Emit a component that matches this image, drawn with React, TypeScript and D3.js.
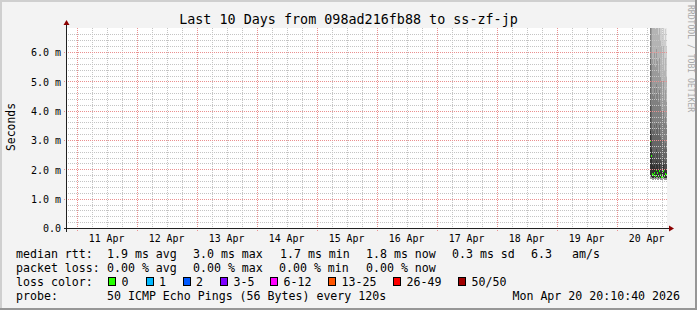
import React from "react";
import * as d3 from "d3";

const W = 697;
const H = 310;
const title = "Last 10 Days from 098ad216fb88 to ss-zf-jp";
const yAxisTitle = "Seconds";
const watermark = "RRDTOOL / TOBI OETIKER";

const endTime = Date.UTC(2026, 3, 20, 20, 10, 40);
const spanSeconds = 10 * 86400;
const yMax = 6.82;

const yTickValues = [0, 1, 2, 3, 4, 5, 6];
const yTickLabels = ["0.0", "1.0 m", "2.0 m", "3.0 m", "4.0 m", "5.0 m", "6.0 m"];
const dayLabels = ["11 Apr", "12 Apr", "13 Apr", "14 Apr", "15 Apr", "16 Apr", "17 Apr", "18 Apr", "19 Apr", "20 Apr"];

// samples (one per 1440 s step) on 20 Apr
const sampleStart = Date.UTC(2026, 3, 20, 13, 18, 0);
const sampleStepSec = 1440;
const medianMs = [2.98, 2.47, 1.85, 1.82, 1.88, 1.79, 1.97, 1.87, 1.77, 1.93, 1.81, 1.75, 1.7, 1.96, 1.77, 1.85, 1.8];
const minMs = [1.66, 1.66, 1.64, 1.65, 1.66, 1.64, 1.67, 1.65, 1.64, 1.66, 1.65, 1.64, 1.63, 1.66, 1.64, 1.65, 1.64];
const lowerQuartileMs = [1.76, 1.74, 1.72, 1.72, 1.74, 1.71, 1.75, 1.73, 1.71, 1.74, 1.72, 1.7, 1.68, 1.74, 1.71, 1.72, 1.71];
// upper bounds of smoke bands, outermost first
const smokeBand0 = [15, 15, 15, 15, 15, 15, 15, 15, 15, 15, 15, 15, 15, 15, 15, 15, 15];
const smokeBand1 = [15, 15, 12, 11, 12, 10, 12, 11, 9, 11, 9, 8, 6.6, 7.5, 6.4, 6.8, 6.2];
const smokeBand2 = [12, 9.5, 7.2, 6.9, 7.4, 6.8, 7.6, 7.0, 6.6, 7.1, 6.4, 6.2, 5.6, 6.2, 5.4, 5.8, 5.2];
const smokeBand3 = [9.5, 7.2, 5.8, 5.6, 6.0, 5.5, 6.1, 5.7, 5.3, 5.8, 5.2, 5.0, 4.6, 5.0, 4.4, 4.7, 4.3];
const smokeBand4 = [7.5, 5.6, 4.6, 4.5, 4.8, 4.4, 4.9, 4.6, 4.3, 4.7, 4.2, 4.0, 3.7, 4.0, 3.6, 3.8, 3.5];
const smokeBand5 = [5.8, 4.2, 3.4, 3.3, 3.5, 3.2, 3.6, 3.4, 3.2, 3.5, 3.1, 3.0, 2.8, 3.0, 2.7, 2.9, 2.7];
const smokeBand6 = [4.2, 3.2, 2.6, 2.5, 2.6, 2.4, 2.7, 2.6, 2.4, 2.6, 2.4, 2.3, 2.2, 2.4, 2.2, 2.3, 2.2];
const smokeBand7 = [3.3, 2.7, 2.15, 2.1, 2.2, 2.05, 2.3, 2.15, 2.0, 2.2, 2.0, 1.95, 1.88, 2.15, 1.95, 2.02, 1.97];
const smokeBands = [smokeBand0, smokeBand1, smokeBand2, smokeBand3, smokeBand4, smokeBand5, smokeBand6, smokeBand7];

const lossLabels = ["0", "1", "2", "3-5", "6-12", "13-25", "26-49", "50/50"];
const lossColors = ["#26ff00", "#00b8ff", "#0059ff", "#7e00ff", "#ff00ff", "#ff5500", "#ff0000", "#a10000"];

const rttRow = ["1.9 ms avg", "3.0 ms max", "1.7 ms min", "1.8 ms now", "0.3 ms sd", "6.3", "am/s"];
const lossRow = ["0.00 % avg", "0.00 % max", "0.00 % min", "0.00 % now"];
const probeText = "50 ICMP Echo Pings (56 Bytes) every 120s";
const dateText = "Mon Apr 20 20:10:40 2026";

// layout
const L = 67, R = 667, T = 28, B = 228;
const mono = "'DejaVu Sans Mono', monospace";
const rttX = [107, 193, 280, 366, 452, 531, 572];
const lossX = [107, 193, 279, 366];
const swatchX = [108, 145.5, 182.5, 220, 270, 328, 393, 458];
const minorGridColor = "#c4c4c4";
const majorGridColor = "#ea9090";

export default function App() {
  const x = d3.scaleUtc().domain([new Date(endTime - spanSeconds * 1000), new Date(endTime)]).range([L, R]);
  const y = d3.scaleLinear().domain([0, yMax]).range([B, T]);
  const [d0, d1] = x.domain();

  const bandColor = (i: number) => {
    const v = Math.round(232 - (182 / (smokeBands.length - 1)) * i);
    return `rgb(${v},${v},${v})`;
  };

  const sampleT = (i: number) => new Date(sampleStart + i * sampleStepSec * 1000);

  const minorH = d3.range(0, 34).map((k) => k * 0.2).filter((v) => v > 0 && v < yMax && Math.abs(v - Math.round(v)) > 1e-6);
  const majorH = yTickValues.filter((v) => v > 0);
  const minorV = d3.utcHour.every(6)!.range(d0, d1).filter((d) => d.getUTCHours() !== 0);
  const majorV = d3.utcDay.range(d0, d1);
  const parseDay = d3.utcParse("%d %b %Y");
  const px = (v: number) => Math.round(v);

  return (
    <svg width={W} height={H} style={{ display: "block", position: "absolute", left: 0, top: 0 }} fontFamily={mono}>
      <defs>
        <clipPath id="plotclip">
          <rect x={L} y={T} width={R - L} height={B - T} />
        </clipPath>
        <pattern id="hMinor" x={0} y={0} width={2} height={1} patternUnits="userSpaceOnUse">
          <rect x={0} y={0} width={1} height={1} fill={minorGridColor} />
        </pattern>
        <pattern id="vMinor" x={0} y={0} width={1} height={2} patternUnits="userSpaceOnUse">
          <rect x={0} y={0} width={1} height={1} fill={minorGridColor} />
        </pattern>
        <pattern id="hMajor" x={0} y={0} width={2} height={1} patternUnits="userSpaceOnUse">
          <rect x={0} y={0} width={1} height={1} fill={majorGridColor} />
        </pattern>
        <pattern id="vMajor" x={0} y={0} width={1} height={2} patternUnits="userSpaceOnUse">
          <rect x={0} y={0} width={1} height={1} fill={majorGridColor} />
        </pattern>
      </defs>
      <rect x={0} y={0} width={W} height={H} fill="#f3f3f3" />
      {/* frame shading */}
      <path d={`M0,0H${W}V2H2V${H}H0Z`} fill="#cfcfcf" />
      <path d={`M${W},0V${H}H0V${H - 2}H${W - 2}V0Z`} fill="#969696" />
      <rect x={L} y={T} width={R - L} height={B - T} fill="#ffffff" />

      {/* smoke */}
      <g clipPath="url(#plotclip)" shapeRendering="crispEdges">
        {smokeBands.map((band, bi) =>
          band.map((hi, i) => {
            const lo = bi < 4 ? minMs[i] : lowerQuartileMs[i];
            const x0 = x(sampleT(i));
            const x1 = x(sampleT(i + 1));
            return (
              <rect key={`s${bi}-${i}`} x={x0} y={y(hi)} width={x1 - x0} height={y(lo) - y(hi)} fill={bandColor(bi)} />
            );
          })
        )}
        {medianMs.map((m, i) => {
          const x0 = x(sampleT(i));
          const x1 = x(sampleT(i + 1));
          return <rect key={`m${i}`} x={x0} y={y(m) - 1} width={x1 - x0} height={2} fill={lossColors[0]} />;
        })}
      </g>

      {/* grid */}
      <g shapeRendering="crispEdges">
        {minorH.map((v) => (
          <rect key={`mh${v}`} x={L} y={px(y(v))} width={R - L} height={1} fill="url(#hMinor)" />
        ))}
        {minorV.map((d) => (
          <rect key={`mv${+d}`} x={px(x(d))} y={T} width={1} height={B - T} fill="url(#vMinor)" />
        ))}
        {majorH.map((v) => (
          <rect key={`Mh${v}`} x={L - 4} y={px(y(v))} width={R - L + 4} height={1} fill="url(#hMajor)" />
        ))}
        {majorV.map((d) => (
          <rect key={`Mv${+d}`} x={px(x(d))} y={T} width={1} height={B - T + 4} fill="url(#vMajor)" />
        ))}
      </g>

      {/* axes */}
      <g shapeRendering="crispEdges">
        <line x1={L - 3} x2={R + 3} y1={B + 0.5} y2={B + 0.5} stroke="#202020" />
        <line x1={L - 0.5} x2={L - 0.5} y1={B + 4} y2={T - 3} stroke="#202020" />
      </g>
      <path d={`M${R + 7},${B + 0.5}L${R + 2},${B - 2.5}L${R + 2},${B + 3.5}Z`} fill="#8b0000" />
      <path d={`M${L - 0.5},${T - 8}L${L - 3.5},${T - 3}L${L + 2.5},${T - 3}Z`} fill="#8b0000" />

      {/* title */}
      <text x={W / 2} y={24} textAnchor="middle" fontSize={13.4} fill="#000">{title}</text>
      <text transform={`translate(688,5) rotate(90)`} fontSize={8.1} fill="#a8a8a8">{watermark}</text>
      <text transform={`translate(15,127) rotate(-90)`} textAnchor="middle" fontSize={11.4} fill="#000">{yAxisTitle}</text>

      {/* y tick labels */}
      {yTickValues.map((v, i) => (
        <text key={`yl${v}`} x={61} y={y(v) + 4.3} textAnchor="end" fontSize={10} fill="#000">{yTickLabels[i]}</text>
      ))}
      {/* x tick labels */}
      {dayLabels.map((lab) => {
        const d = parseDay(lab + " 2026")!;
        const noon = d3.utcHour.offset(d, 12);
        return (
          <text key={lab} x={x(noon)} y={241.5} textAnchor="middle" fontSize={9.9} fill="#000">{lab}</text>
        );
      })}

      {/* legend */}
      <g fontSize={11.6} fill="#000">
        <text x={16} y={258}>median rtt:</text>
        {rttRow.map((t, i) => (
          <text key={`r${i}`} x={rttX[i]} y={258}>{t}</text>
        ))}
        <text x={16} y={272}>packet loss:</text>
        {lossRow.map((t, i) => (
          <text key={`l${i}`} x={lossX[i]} y={272}>{t}</text>
        ))}
        <text x={16} y={286}>loss color:</text>
        {lossLabels.map((lab, i) => (
          <g key={`lc${i}`}>
            <rect x={swatchX[i] + 0.5} y={277.5} width={7} height={8} fill={lossColors[i]} stroke="#000" strokeWidth={1} shapeRendering="crispEdges" />
            <text x={swatchX[i] + 13.5} y={286}>{lab}</text>
          </g>
        ))}
        <text x={16} y={300}>probe:</text>
        <text x={107} y={300}>{probeText}</text>
        <text x={680} y={300} textAnchor="end">{dateText}</text>
      </g>
    </svg>
  );
}
